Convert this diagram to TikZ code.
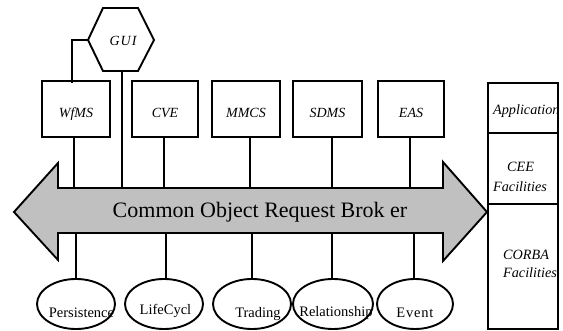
\documentclass[tikz,border=0pt]{standalone}
\usepackage{fontspec}
\setmainfont{Liberation Serif}
\usetikzlibrary{shapes.geometric}
\newcommand{\lowlbl}[1]{\raisebox{-8.6pt}[0pt][0pt]{#1}}
\begin{document}
\begin{tikzpicture}[x=1pt,y=-1pt,
  ln/.style={line width=1.9pt},
  box/.style={draw,line width=1.9pt,minimum width=68pt,minimum height=56pt,inner sep=0pt,font=\fontsize{14}{16}\selectfont\itshape},
  ell/.style={draw,line width=1.9pt,ellipse,minimum width=78pt,minimum height=50pt,inner sep=0pt},
  elltext/.style={font=\fontsize{14.5}{16}\selectfont,inner sep=0pt},
  coltext/.style={font=\fontsize{14.2}{15}\selectfont\itshape,inner sep=0pt,anchor=west}]
\useasboundingbox (0,0) rectangle (563,331);
% central arrow
\draw[ln,fill={rgb,255:red,192;green,192;blue,192}] (14,212) -- (58,163) -- (58,188) -- (443,188) -- (443,162) -- (487,212) -- (443,261) -- (443,233) -- (58,233) -- (58,260) -- cycle;
\coordinate (shafttop) at (0,188);
\coordinate (shaftbot) at (0,233);
\node[font=\fontsize{22}{26}\selectfont,inner sep=0pt] (orb) at (260,212) {Common Object Request Brok er};
% GUI hexagon
\draw[ln] (88,40) coordinate (guiw) -- (103,8) -- (138,8) -- (154,40) -- (138,71) -- (103,71) -- cycle;
\coordinate (guis) at (122,71);
\node[font=\fontsize{14}{16}\selectfont\itshape,inner sep=0pt] (gui) at (123,41) {G\kern1pt U\kern1pt I};
% boxes
\node[box] (wfms) at (76,109) {\lowlbl{WfMS}};
\node[box,minimum width=66pt] (cve) at (165,109) {\lowlbl{CVE}};
\node[box] (mmcs) at (246,109) {\lowlbl{MMCS}};
\node[box,minimum width=69pt] (sdms) at (327.5,109) {\lowlbl{SDMS}};
\node[box,minimum width=66pt] (eas) at (411,109) {\lowlbl{EAS}};
\draw[ln] (guiw) -| (72,83);
\draw[ln] (guis) -- (guis |- shafttop);
\draw[ln] ([xshift=-2pt]wfms.south) -- ([xshift=-2pt]wfms.south |- shafttop);
\draw[ln] ([xshift=-1pt]cve.south) -- ([xshift=-1pt]cve.south |- shafttop);
\draw[ln] ([xshift=4pt]mmcs.south) -- ([xshift=4pt]mmcs.south |- shafttop);
\draw[ln] ([xshift=4.5pt]sdms.south) -- ([xshift=4.5pt]sdms.south |- shafttop);
\draw[ln] ([xshift=-1pt]eas.south) -- ([xshift=-1pt]eas.south |- shafttop);
% ellipses
\node[ell] (pers) at (76,304) {};
\node[ell] (life) at (164,304) {};
\node[ell] (trad) at (252,304) {};
\node[ell,minimum width=80pt] (rel) at (333,304) {};
\node[ell,minimum width=76pt] (evt) at (415,304) {};
\node[elltext] (perst) at (81.5,313) {Persistence};
\node[elltext] (lifet) at (165.5,311) {LifeCycl};
\node[elltext] (tradt) at (258,314) {Trading};
\node[elltext] (relt) at (336,313) {Relationship};
\node[elltext] (evtt) at (415,313) {E\kern0.8pt v\kern0.8pt e\kern0.8pt n\kern0.8pt t};
\draw[ln] (pers.north) -- (pers.north |- shaftbot);
\draw[ln] ([xshift=2pt]life.north) -- ([xshift=2pt]life.north |- shaftbot);
\draw[ln] (trad.north) -- (trad.north |- shaftbot);
\draw[ln] ([xshift=-1pt]rel.north) -- ([xshift=-1pt]rel.north |- shaftbot);
\draw[ln] ([xshift=-1pt]evt.north) -- ([xshift=-1pt]evt.north |- shaftbot);
% right column
\draw[ln] (488,83) rectangle (558,329);
\draw[ln] (488,133) -- (558,133);
\draw[ln] (488,204) -- (558,204);
\node[coltext] (app) at (493,111) {Application};
\node[coltext] (cee) at (507,167) {CEE};
\node[coltext] (ceef) at (493,187) {Facilities};
\node[coltext] (corba) at (503,255) {CORBA};
\node[coltext] (corbaf) at (503,273) {Facilities};
\end{tikzpicture}
\end{document}
